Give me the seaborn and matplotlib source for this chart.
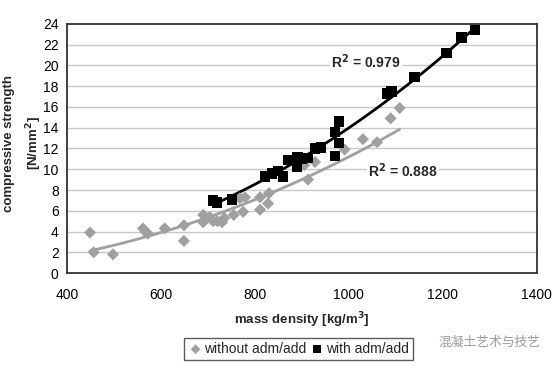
import numpy as np
import pandas as pd
import matplotlib
matplotlib.use("Agg")
import matplotlib.pyplot as plt
import seaborn as sns

# mass density [kg/m3] and compressive strength [N/mm2]
without_x = [449, 457, 498, 562, 567, 572, 608, 649, 649, 690, 690, 704, 711, 720,
             730, 735, 755, 768, 775, 779, 811, 811, 828, 830, 905, 913, 928,
             991, 1030, 1060, 1089, 1108]
without_y = [3.9, 2.0, 1.8, 4.3, 4.0, 3.8, 4.3, 4.6, 3.1, 5.6, 4.9, 5.4, 5.0, 5.0,
             4.9, 5.3, 5.6, 7.2, 5.9, 7.3, 6.1, 7.3, 6.7, 7.7, 10.4, 9.0, 10.7,
             11.9, 12.9, 12.6, 14.9, 15.9]

with_x = [711, 719, 751, 821, 836, 849, 860, 870, 889, 891, 900, 913, 928, 940,
          970, 970, 979, 979, 1081, 1091, 1140, 1208, 1240, 1268]
with_y = [7.0, 6.8, 7.1, 9.3, 9.6, 9.8, 9.3, 10.9, 10.2, 11.2, 11.0, 11.1, 12.0, 12.1,
          11.3, 13.6, 12.5, 14.6, 17.3, 17.5, 18.9, 21.2, 22.7, 23.4]

r2_labels = ["R$^\\mathbf{2}$ = 0.888", "R$^\\mathbf{2}$ = 0.979"]

gray = "#a0a0a0"

df_wo = pd.DataFrame({"density": without_x, "strength": without_y})
df_w = pd.DataFrame({"density": with_x, "strength": with_y})


def power_trend(d):
    # power trendline y = a * x^b, like the spreadsheet one
    b, loga = np.polyfit(np.log(d["density"]), np.log(d["strength"]), 1)
    xs = np.linspace(d["density"].min(), d["density"].max(), 100)
    return pd.DataFrame({"density": xs, "strength": np.exp(loga) * xs ** b})


sns.set_style("white")
plt.rcParams["font.family"] = ["Liberation Sans", "DejaVu Sans"]

fig = plt.figure(figsize=(5.58, 3.68), dpi=100)
ax = fig.add_axes([0.120, 0.258, 0.842, 0.677])

for y in range(2, 24, 2):
    ax.axhline(y, color="#c8c8c8", lw=1, zorder=0)

sns.lineplot(data=power_trend(df_wo), x="density", y="strength", color=gray, lw=2,
             ax=ax, zorder=2)
sns.lineplot(data=power_trend(df_w), x="density", y="strength", color="black", lw=2,
             ax=ax, zorder=2)

ax.scatter(df_wo["density"], df_wo["strength"], marker="D", s=38, color=gray,
           edgecolor="none", zorder=3, label="without adm/add")
ax.scatter(df_w["density"], df_w["strength"], marker="s", s=55, color="black",
           edgecolor="none", zorder=4, label="with adm/add")

ax.set_xlim(400, 1400)
ax.set_ylim(0, 24)
ax.set_xticks(range(400, 1401, 200))
ax.set_yticks(range(0, 25, 2))
ax.tick_params(axis="both", direction="out", length=3, width=1, labelsize=10,
               colors="black", pad=3)
ax.tick_params(axis="x", pad=8)
for s in ax.spines.values():
    s.set_color("#333333")
    s.set_linewidth(1.3)

ax.set_xlabel("mass density [kg/m$^\\mathbf{3}$]", fontsize=9.5, fontweight="bold",
              labelpad=6)
ax.set_ylabel("")
# y label, two lines spaced apart as in the original
fig.text(0.017, 0.61, "compressive strength", rotation=90, fontsize=9.5,
         fontweight="bold", ha="center", va="center")
fig.text(0.061, 0.61, "[N/mm$^\\mathbf{2}$]", rotation=90, fontsize=9.5,
         fontweight="bold", ha="center", va="center")

ax.text(1115, 9.9, r2_labels[0], fontsize=10, fontweight="bold", ha="center",
        va="center", bbox=dict(facecolor="white", edgecolor="none", pad=1), zorder=5)
ax.text(1036, 20.4, r2_labels[1], fontsize=10, fontweight="bold", ha="center",
        va="center", bbox=dict(facecolor="white", edgecolor="none", pad=1), zorder=5)

leg = fig.legend(loc="center", bbox_to_anchor=(0.535, 0.052), ncol=2, fontsize=10,
                 frameon=True, fancybox=False, edgecolor="#333333",
                 handletextpad=0.1, columnspacing=0.3, borderpad=0.3,
                 handlelength=1.0, markerscale=0.8)
leg.get_frame().set_linewidth(1)

fig.text(0.785, 0.071, "混凝土艺术与技艺", fontsize=9.2, color="#9a9a9a",
         family=["Noto Sans CJK SC", "DejaVu Sans"], ha="left", va="center")

fig.savefig("out.png", dpi=100)
